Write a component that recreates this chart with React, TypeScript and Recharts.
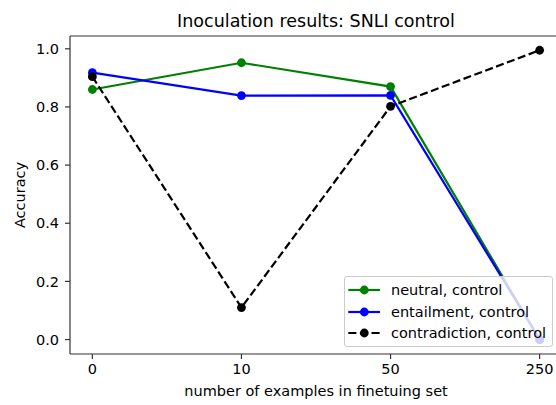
import React from 'react';
import { LineChart, Line, XAxis, YAxis, Legend, ReferenceLine, Label } from 'recharts';

const categories = ['0', '10', '50', '250'];
const neutralControl = [0.86, 0.952, 0.87, 0.0];
const entailmentControl = [0.918, 0.839, 0.84, 0.0];
const contradictionControl = [0.904, 0.11, 0.802, 0.995];
const seriesNames = ['neutral, control', 'entailment, control', 'contradiction, control'];
const yTicks = [0, 0.2, 0.4, 0.6, 0.8, 1.0];
const xTicks = [0, 1, 2, 3];

const title = 'Inoculation results: SNLI control';
const xLabel = 'number of examples in finetuing set';
const yLabel = 'Accuracy';

const data = categories.map((c, i) => ({
  idx: i,
  label: c,
  neutral: neutralControl[i],
  entailment: entailmentControl[i],
  contradiction: contradictionControl[i],
}));

const FONT = '"DejaVu Sans", sans-serif';
const AXIS = '#333333';
const X_DOMAIN: [number, number] = [-0.15, 3.15];
const Y_DOMAIN: [number, number] = [-0.0497, 1.044];

const seriesStyle = [
  { key: 'neutral', color: '#008000', dash: undefined as string | undefined },
  { key: 'entailment', color: '#0000ff', dash: undefined as string | undefined },
  { key: 'contradiction', color: '#000000', dash: '8.1 3.5' },
];

const renderLegend = (props: any) => {
  const payload: any[] = (props && props.payload) || [];
  const entries = seriesStyle.map((s, i) => {
    const found = payload.find((p: any) => p.dataKey === s.key);
    return {
      key: s.key,
      value: found && found.value ? found.value : seriesNames[i],
      color: found && found.color ? found.color : s.color,
      dash: s.dash,
    };
  });
  return (
    <div
      style={{
        position: 'absolute',
        left: 344,
        top: 276,
        width: 209,
        height: 71,
        boxSizing: 'border-box',
        background: 'rgba(255,255,255,0.8)',
        border: '1px solid #cccccc',
        borderRadius: 3,
        fontFamily: FONT,
        fontSize: 14.5,
        color: '#000',
      }}
    >
      {entries.map((entry, i) => (
        <div
          key={entry.key}
          style={{ position: 'absolute', left: 0, top: 2.3 + i * 21.4, height: 22, width: 207, whiteSpace: 'nowrap' }}
        >
          <svg width={44} height={22} style={{ position: 'absolute', left: 0, top: 0 }}>
            <line x1={3.3} x2={35} y1={11} y2={11} stroke={entry.color} strokeWidth={2.2} strokeDasharray={entry.dash} />
            <circle cx={19.3} cy={11} r={4.4} fill={entry.color} />
          </svg>
          <span style={{ position: 'absolute', left: 46, top: 0, lineHeight: '22px' }}>{entry.value}</span>
        </div>
      ))}
    </div>
  );
};

export default function App() {
  return (
    <div style={{ position: 'absolute', left: 0, top: 0, width: 556, height: 405, overflow: 'hidden', background: '#fff' }}>
      <svg width={556} height={405} style={{ position: 'absolute', left: 0, top: 0, pointerEvents: 'none' }}>
        <text x={316} y={27} textAnchor="middle" fontFamily={FONT} fontSize={17.5} fill="#000">
          {title}
        </text>
      </svg>
      <div style={{ position: 'absolute', left: 0, top: 0 }}>
        <LineChart width={562} height={405} data={data} margin={{ top: 36, right: 0, bottom: 0, left: 0 }}>
          <XAxis
            dataKey="idx"
            type="number"
            domain={X_DOMAIN}
            ticks={xTicks}
            allowDataOverflow
            interval={0}
            tickFormatter={(v: number) => categories[v] ?? ''}
            height={51}
            tickSize={5}
            tickMargin={5}
            stroke={AXIS}
            strokeWidth={1.2}
            tick={{ fill: '#000', fontSize: 14.5, fontFamily: FONT }}
            tickLine={{ stroke: AXIS, strokeWidth: 1.2 }}
          >
            <Label
              content={(p: any) => {
                const vb = p.viewBox || { x: 0, y: 354, width: 562, height: 51 };
                return (
                  <text x={vb.x + vb.width / 2} y={vb.y + 42} textAnchor="middle" fontFamily={FONT} fontSize={14.5} fill="#000">
                    {xLabel}
                  </text>
                );
              }}
            />
          </XAxis>
          <YAxis
            type="number"
            domain={Y_DOMAIN}
            ticks={yTicks}
            allowDataOverflow
            width={70}
            tickSize={5}
            tickMargin={6}
            stroke={AXIS}
            strokeWidth={1.2}
            tickFormatter={(v: number) => v.toFixed(1)}
            tick={{ fill: '#000', fontSize: 14.5, fontFamily: FONT }}
            tickLine={{ stroke: AXIS, strokeWidth: 1.2 }}
          >
            <Label
              content={(p: any) => {
                const vb = p.viewBox || { x: 0, y: 36, width: 70, height: 318 };
                const cx = vb.x + 24.6;
                const cy = vb.y + vb.height / 2;
                return (
                  <text x={cx} y={cy} transform={`rotate(-90 ${cx} ${cy})`} textAnchor="middle" fontFamily={FONT} fontSize={14.5} fill="#000">
                    {yLabel}
                  </text>
                );
              }}
            />
          </YAxis>
          <ReferenceLine y={Y_DOMAIN[1]} stroke={AXIS} strokeWidth={1.2} />
          <ReferenceLine x={X_DOMAIN[1]} stroke={AXIS} strokeWidth={1.2} />
          {seriesStyle.map((s, i) => (
            <Line
              key={s.key}
              type="linear"
              dataKey={s.key}
              name={seriesNames[i]}
              stroke={s.color}
              strokeWidth={2.2}
              strokeDasharray={s.dash}
              dot={{ r: 4.4, fill: s.color, stroke: s.color, strokeWidth: 0 }}
              activeDot={false}
              isAnimationActive={false}
            />
          ))}
          <Legend
            content={renderLegend}
            wrapperStyle={{ position: 'absolute', left: 0, top: 0, width: 0, height: 0, margin: 0, overflow: 'visible' }}
          />
        </LineChart>
      </div>
    </div>
  );
}
